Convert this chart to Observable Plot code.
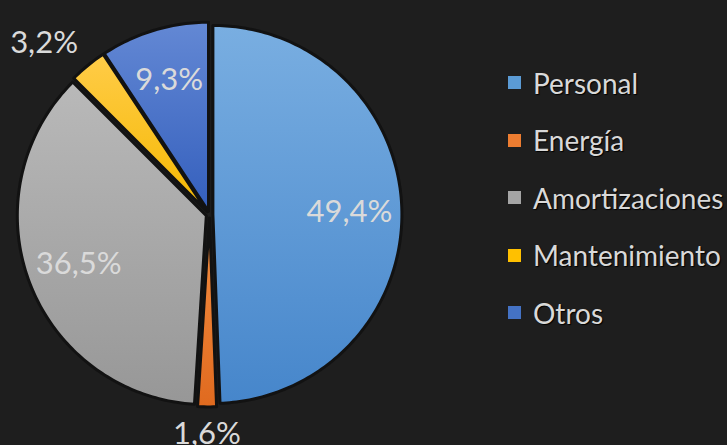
<!DOCTYPE html>
<html><head><meta charset="utf-8">
<script src="https://cdn.jsdelivr.net/npm/d3@7"></script>
<script src="https://cdn.jsdelivr.net/npm/@observablehq/plot@0.6"></script>
<style>
html,body{margin:0;padding:0;background:#1e1e1e;}
#wrap{position:relative;width:727px;height:445px;overflow:hidden;background:#1e1e1e;}
#chart{position:absolute;left:0;top:0;}
#legend{position:absolute;left:508px;top:54px;font-family:Lato,"Open Sans",sans-serif;font-size:28px;color:#d9d9d9;}
.item{display:flex;align-items:center;height:57.5px;white-space:nowrap;text-shadow:1px 1px 1px #000;}
.sw{width:13px;height:13px;margin-right:12px;flex:none;}
</style>
</head><body>
<div id="wrap"><div id="chart"></div><div id="legend"></div></div>
<script>
const categories = ["Personal", "Energía", "Amortizaciones", "Mantenimiento", "Otros"];
const values = [49.4, 1.6, 36.5, 3.2, 9.3];
const valueLabels = ["49,4%", "1,6%", "36,5%", "3,2%", "9,3%"];
const topColors = ["#79aee1", "#f48f42", "#b9b9b9", "#ffcc48", "#6388d4"];
const bottomColors = ["#4686cb", "#e06a1f", "#979797", "#f5b800", "#345fbd"];
const baseColors = ["#5b9bd5", "#ed7d31", "#a5a5a5", "#ffc000", "#4472c4"];

const W = 727, H = 445;
const cx = 209, cy = 214, rpx = 189;
const explode = 0.018;

const arcs = d3.pie().sort(null).value(d => d)(values);
const rows = [];
const labelRows = [];
arcs.forEach((a, i) => {
  const mid = (a.startAngle + a.endAngle) / 2;
  const ox = explode * Math.sin(mid), oy = explode * Math.cos(mid);
  rows.push({i, x: ox, y: oy});
  const n = Math.max(2, Math.ceil((a.endAngle - a.startAngle) / (Math.PI / 180)));
  for (let k = 0; k <= n; k++) {
    const t = a.startAngle + (a.endAngle - a.startAngle) * k / n;
    rows.push({i, x: ox + Math.sin(t), y: oy + Math.cos(t)});
  }
  const outside = values[i] < 5;
  const r = outside ? 1.1 : 0.74;
  const s = Math.sin(mid), c = Math.cos(mid);
  labelRows.push({i, label: valueLabels[i], x: r * s, y: r * c, outside,
    textAnchor: Math.abs(s) < 0.3 ? "middle" : (s < 0 ? "end" : "start"),
    lineAnchor: c > 0.3 ? "bottom" : (c < -0.3 ? "top" : "middle")});
});

const marks = categories.map((name, i) =>
  Plot.line(rows.filter(d => d.i === i), {
    x: "x", y: "y", curve: "linear-closed",
    fill: `url(#grad${i})`, stroke: "#121212", strokeWidth: 3, strokeLinejoin: "round"
  })
);
const font = {fontFamily: "Lato, 'Open Sans', sans-serif", fontSize: 31, fill: "#dadada"};
marks.push(Plot.text(labelRows.filter(d => !d.outside), {x: "x", y: "y", text: "label", ...font}));
labelRows.filter(d => d.outside).forEach(d => {
  marks.push(Plot.text([d], {x: "x", y: "y", text: "label", textAnchor: d.textAnchor, lineAnchor: d.lineAnchor, ...font}));
});

const svg = Plot.plot({
  width: W, height: H, margin: 0,
  x: {domain: [-cx / rpx, (W - cx) / rpx], axis: null},
  y: {domain: [-(H - cy) / rpx, cy / rpx], axis: null},
  style: {background: "transparent", overflow: "visible"},
  marks
});
const defs = d3.select(svg).insert("defs", ":first-child");
categories.forEach((name, i) => {
  const g = defs.append("linearGradient").attr("id", `grad${i}`).attr("x1", 0).attr("y1", 0).attr("x2", 0).attr("y2", 1);
  g.append("stop").attr("offset", "0%").attr("stop-color", topColors[i]);
  g.append("stop").attr("offset", "100%").attr("stop-color", bottomColors[i]);
});
document.getElementById("chart").appendChild(svg);

const legend = d3.select("#legend");
categories.forEach((name, i) => {
  const item = legend.append("div").attr("class", "item");
  item.append("div").attr("class", "sw").style("background", baseColors[i]);
  item.append("span").text(name);
});
</script>
</body></html>
